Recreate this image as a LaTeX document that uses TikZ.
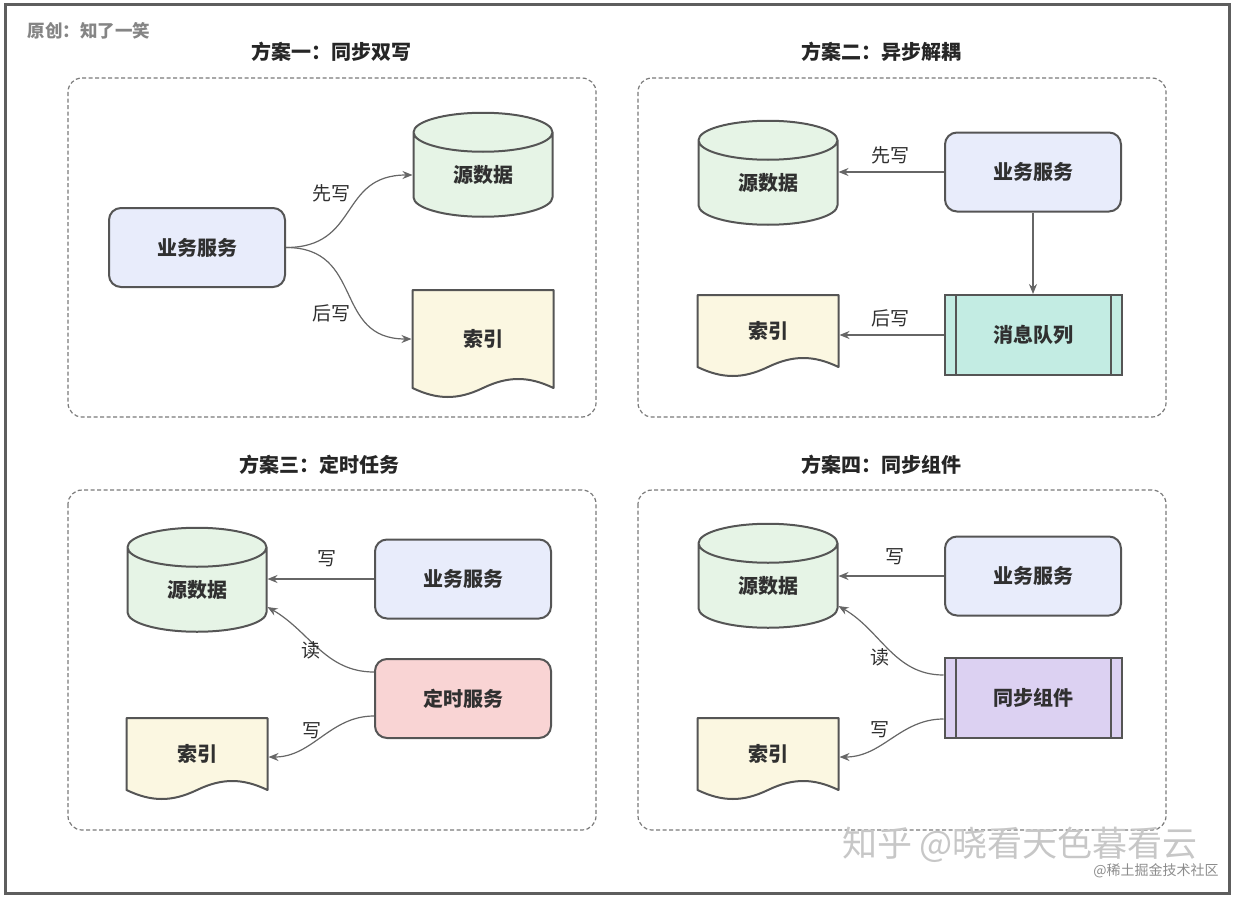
\documentclass[tikz,border=0pt]{standalone}
\usepackage{fontspec}
\setmainfont{Noto Sans CJK SC}
\usetikzlibrary{shapes.geometric, arrows.meta, calc, backgrounds}

\definecolor{framegray}{HTML}{5E5E5E}
\definecolor{dashgray}{HTML}{7A7A7A}
\definecolor{edgegray}{HTML}{666666}
\definecolor{boxline}{HTML}{555555}
\definecolor{textdark}{HTML}{303030}
\definecolor{svcblue}{HTML}{E8ECFB}
\definecolor{dbgreen}{HTML}{E6F4E6}
\definecolor{docyellow}{HTML}{FBF7E1}
\definecolor{mqteal}{HTML}{C3ECE3}
\definecolor{timerpink}{HTML}{F9D4D4}
\definecolor{syncpurple}{HTML}{DCD1F2}

% wavy bottom of a document node, drawn behind its text
\newcommand{\docshape}[1]{%
  \begin{scope}[on background layer]
  \filldraw[fill=docyellow, draw=boxline, line width=2pt, line join=round]
    ([shift={(1,-1)}]#1.north west) -- ([shift={(-1,-1)}]#1.north east) -- ([shift={(-1,1)}]#1.south east)
    .. controls +(-25,12) and +(25,12) .. ([yshift=1pt]#1.south)
    .. controls +(-25,-12) and +(25,-12) .. ([shift={(1,1)}]#1.south west) -- cycle;
  \end{scope}}

\begin{document}
\begin{tikzpicture}[x=1pt, y=1pt,
    box/.style={draw=boxline, line width=2pt, text=textdark, inner sep=0pt,
      font=\bfseries\fontsize{20}{24}\selectfont},
    svc/.style={box, rectangle, rounded corners=12pt, minimum width=176pt, minimum height=79pt, fill=svcblue},
    db/.style={box, cylinder, shape border rotate=90, aspect=0.65, minimum width=139pt, minimum height=104pt, fill=dbgreen},
    doc/.style={box, draw=none, rectangle, minimum width=141pt, minimum height=72pt},
    queue/.style={box, rectangle, minimum width=177pt, minimum height=80pt,
      path picture={\draw[boxline, line width=2pt]
        ([xshift=11pt]path picture bounding box.north west) -- ([xshift=11pt]path picture bounding box.south west)
        ([xshift=-11pt]path picture bounding box.north east) -- ([xshift=-11pt]path picture bounding box.south east);}},
    panel/.style={draw=dashgray, line width=1.2pt, dash pattern=on 4pt off 2.5pt, rounded corners=14pt},
    title/.style={text=black!85, font=\bfseries\fontsize{20}{24}\selectfont},
    lbl/.style={text=textdark, font=\fontsize{19}{22}\selectfont},
    arr/.style={draw=edgegray, line width=1.2pt, -{Stealth[length=10pt, width=8pt]}}
  ]
  \useasboundingbox (0,0) rectangle (1240,-899);
  \draw[draw=framegray, line width=3pt] (5.5,-4.5) rectangle (1229.5,-893.5);

  \node[text=black!48, font=\bfseries\fontsize{17.5}{20}\selectfont] (orig) at (89,-31) {原创：知了一笑};

  % Panels
  \draw[panel] (68,-78) rectangle (596,-417);
  \draw[panel] (638,-78) rectangle (1166,-417);
  \draw[panel] (68,-490) rectangle (596,-830);
  \draw[panel] (638,-490) rectangle (1166,-830);

  \node[title] (t1) at (331,-52) {方案一：同步双写};
  \node[title] (t2) at (881,-52) {方案二：异步解耦};
  \node[title] (t3) at (319,-465) {方案三：定时任务};
  \node[title] (t4) at (881,-465) {方案四：同步组件};

  % Nodes
  \node[svc] (svc1) at (197,-247.5) {业务服务};
  \node[db] (db1) at (483,-175) {源数据};
  \node[doc, minimum height=98pt] (doc1) at (483,-339) {索引};
  \docshape{doc1}

  \node[db] (db2) at (768,-183) {源数据};
  \node[svc] (svc2) at (1033,-172) {业务服务};
  \node[queue, fill=mqteal] (mq2) at (1033,-335) {消息队列};
  \node[doc] (doc2) at (768,-331) {索引};
  \docshape{doc2}

  \node[db] (db3) at (197,-590) {源数据};
  \node[svc] (svc3) at (463,-579) {业务服务};
  \node[svc, fill=timerpink] (timer3) at (463,-698.5) {定时服务};
  \node[doc] (doc3) at (197,-754) {索引};
  \docshape{doc3}

  \node[db] (db4) at (768,-586) {源数据};
  \node[svc] (svc4) at (1033,-576) {业务服务};
  \node[queue, fill=syncpurple] (sync4) at (1033,-698) {同步组件};
  \node[doc] (doc4) at (768,-754) {索引};
  \docshape{doc4}

  % Edges
  \draw[arr] (svc1.east) to[out=0, in=180, looseness=1.3] (db1.west);
  \draw[arr] (svc1.east) to[out=0, in=180, looseness=1.3] (doc1.west);
  \node[lbl] (w1a) at (331,-193) {先写};
  \node[lbl] (w1b) at (331,-313) {后写};

  \draw[arr] (svc2.west) -- (svc2.west -| db2.east);
  \draw[arr] (svc2.south) -- (mq2.north);
  \draw[arr] (mq2.west) -- (mq2.west -| doc2.east);
  \node[lbl] (w2a) at (890,-155) {先写};
  \node[lbl] (w2b) at (890,-318) {后写};

  \draw[arr] (svc3.west) -- (svc3.west -| db3.east);
  \draw[arr] ([yshift=26.5pt]timer3.west) to[out=180, in=-30] ($(db3.center -| db3.east)+(0,-17)$);
  \draw[arr] ([yshift=-17.5pt]timer3.west) to[out=180, in=0] ($(doc3.east)+(0,-3)$);
  \node[lbl] (w3a) at (327,-559) {写};
  \node[lbl] (r3) at (311,-650) {读};
  \node[lbl] (w3b) at (312,-731) {写};

  \draw[arr] (svc4.west) -- (svc4.west -| db4.east);
  \draw[arr] ([yshift=23pt]sync4.west) to[out=180, in=-30] ($(db4.center -| db4.east)+(0,-20)$);
  \draw[arr] ([yshift=-21pt]sync4.west) to[out=180, in=0] ($(doc4.east)+(0,-3)$);
  \node[lbl] (w4a) at (895,-557) {写};
  \node[lbl] (r4) at (880,-657) {读};
  \node[lbl] (w4b) at (880,-730) {写};

  % Watermarks
  \node[text=black!22, font=\fontsize{35}{38}\selectfont] (zh) at (1020,-845) {知乎 @晓看天色暮看云};
  \node[text=black!45, font=\fontsize{14}{16}\selectfont] (jj) at (1156,-871) {@稀土掘金技术社区};
\end{tikzpicture}
\end{document}
